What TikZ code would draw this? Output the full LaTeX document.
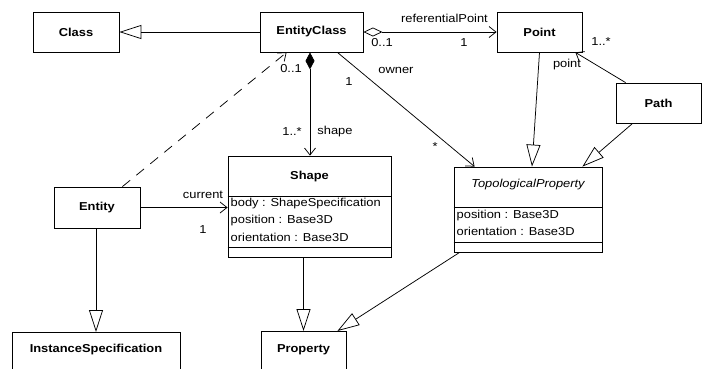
\documentclass[tikz,border=0pt]{standalone}
\usepackage{fontspec}
\setmainfont[FakeStretch=1.12]{Liberation Sans}
\usetikzlibrary{arrows.meta,calc}
\begin{document}
\begin{tikzpicture}[x=1pt,y=-1pt,
  every node/.style={font=\fontsize{11.5}{14}\selectfont, inner sep=0pt},
  cls/.style={draw, line width=0.8pt, font=\fontsize{11.5}{14}\selectfont\bfseries},
  title/.style={font=\fontsize{11.5}{14}\selectfont\bfseries},
  lbl/.style={font=\fontsize{11.5}{14}\selectfont},
  attr/.style={anchor=west, font=\fontsize{11.5}{14}\selectfont},
  conn/.style={line width=0.75pt},
  gen/.style={conn, -{Triangle[open,length=22pt,width=14pt,line width=0.75pt]}},
  nav/.style={conn, -{Straight Barb[length=7pt,width=11pt,line width=0.75pt]}},
  aggr/.style={conn, {Diamond[open,length=19pt,width=9pt,line width=0.75pt]}-{Straight Barb[length=7pt,width=11pt,line width=0.75pt]}},
  comp/.style={conn, {Diamond[length=17pt,width=9pt]}-{Straight Barb[length=7pt,width=11pt,line width=0.75pt]}},
  dep/.style={conn, dash pattern=on 10pt off 8pt, -{Straight Barb[length=7pt,width=11pt,line width=0.75pt]}}
]
\clip (0,0) rectangle (706,368);
\fill[white] (0,0) rectangle (706,368);

% class boxes
\node[cls, minimum width=86pt, minimum height=40pt] (class) at (76,32) {Class};
\node[cls, minimum width=103pt, minimum height=40pt] (entityclass) at (311.5,32) {EntityClass};
\node[cls, minimum width=85pt, minimum height=40pt] (point) at (539.5,32) {Point};
\node[cls, minimum width=85pt, minimum height=40pt] (path) at (658.5,103) {Path};
\node[cls, minimum width=86pt, minimum height=41pt] (entity) at (97,207.5) {Entity};
\node[cls, minimum width=168pt, minimum height=42pt, anchor=north] (instspec) at (96,332) {};
\node[title] (instspectitle) at (96,350) {InstanceSpecification};
\node[cls, minimum width=85pt, minimum height=42pt, anchor=north] (property) at (303.5,331) {};
\node[title] (propertytitle) at (303.5,350) {Property};

% Shape class
\node[draw, line width=0.8pt, minimum width=163pt, minimum height=101pt] (shape) at (309.5,206.5) {};
\node[title] (shapetitle) at (309.5,176.5) {Shape};
\draw[line width=0.8pt] ($(shape.north west)+(0,41)$) -- ($(shape.north east)+(0,41)$);
\draw[line width=0.8pt] ($(shape.north west)+(0,92)$) -- ($(shape.north east)+(0,92)$);
\node[attr] (shapea1) at (230.5,204) {body : ShapeSpecification};
\node[attr] (shapea2) at (230.5,221) {position : Base3D};
\node[attr] (shapea3) at (230.5,237.5) {orientation : Base3D};

% TopologicalProperty class
\node[draw, line width=0.8pt, minimum width=148pt, minimum height=85pt] (topprop) at (528,209.5) {};
\node[font=\fontsize{11.5}{14}\selectfont\itshape] (toptitle) at (528,184.5) {TopologicalProperty};
\draw[line width=0.8pt] ($(topprop.north west)+(0,41)$) -- ($(topprop.north east)+(0,41)$);
\draw[line width=0.8pt] ($(topprop.north west)+(0,76)$) -- ($(topprop.north east)+(0,76)$);
\node[attr] (topa1) at (456.5,215.5) {position : Base3D};
\node[attr] (topa2) at (456.5,231) {orientation : Base3D};

% generalizations
\draw[gen] (entityclass.west) -- (class.east);
\draw[gen] (point.south) -- ([xshift=4pt]topprop.north);
\draw[gen] ([xshift=17pt]path.south west) -- ([xshift=-20pt]topprop.north east);
\draw[gen] (entity.south -| instspec.north) -- (instspec.north);
\draw[gen] (property.north |- shape.south) -- (property.north);
\draw[gen] ([xshift=6pt]topprop.south west) -- ([xshift=-9pt]property.north east);

% associations
\draw[aggr] (entityclass.east) -- (point.west);
\draw[comp] (entityclass.south -| 310,0) -- (shape.north -| 310,0);
\draw[dep] ([xshift=-18pt]entity.north east) -- ([xshift=27pt]entityclass.south west);
\draw[nav] ([xshift=-26pt]entityclass.south east) -- ([xshift=21pt]topprop.north west);
\draw[nav] ([xshift=10pt]path.north west) -- ([xshift=-7pt]point.south east);
\draw[nav] (entity.east) -- (entity.east -| shape.west);

% labels
\node[lbl] (lrefpt) at (444.5,18) {referentialPoint};
\node[lbl] (lrefsrc) at (382,43) {0..1};
\node[lbl] (lreftgt) at (464,43) {1};
\node[lbl] (ldep) at (291,69) {0..1};
\node[lbl] (lcompm) at (292,132) {1..*};
\node[lbl] (lcompr) at (335,132) {shape};
\node[lbl] (lcur) at (203,195) {current};
\node[lbl] (lcurm) at (203,230) {1};
\node[lbl] (lowner) at (396,70) {owner};
\node[lbl] (lownsrc) at (349,82) {1};
\node[lbl] (lowntgt) at (435,147) {*};
\node[lbl] (lptm) at (601,42) {1..*};
\node[lbl] (lpt) at (567,65) {point};
\end{tikzpicture}
\end{document}
